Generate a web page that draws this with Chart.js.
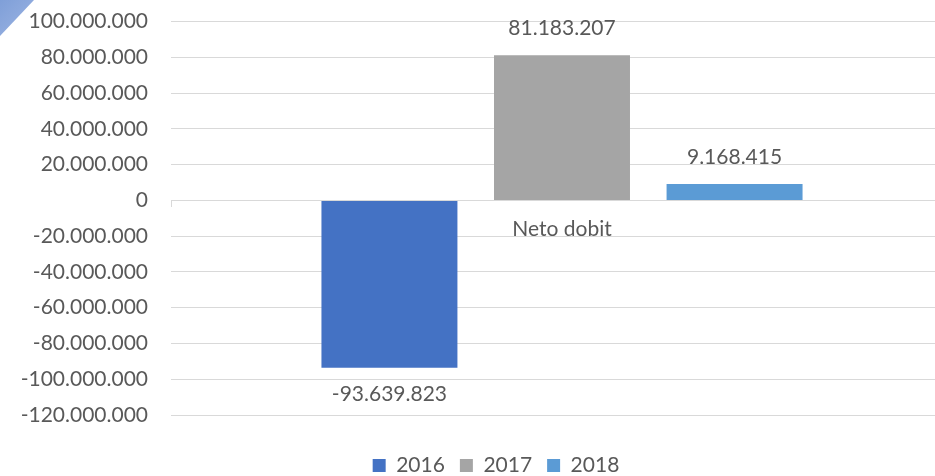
<!DOCTYPE html>
<html>
<head>
<meta charset="utf-8">
<script src="https://cdn.jsdelivr.net/npm/chart.js@4.4.1/dist/chart.umd.min.js"></script>
<style>
    html, body { margin: 0; padding: 0; background: #ffffff; overflow: hidden; }
    #wrap { position: relative; width: 982px; height: 476px; overflow: hidden; }
    #profit-chart { position: absolute; left: 0; top: -14px; }
    #corner {
        position: absolute; left: 0; top: 0; width: 34px; height: 36px;
        background: linear-gradient(135deg, #7f9fd8 0%, #9db5e3 100%);
        clip-path: polygon(0 0, 100% 0, 0 100%);
        z-index: 2;
    }
</style>
</head>
<body>
<div id="wrap">
    <canvas id="profit-chart" width="982" height="500"></canvas>
    <div id="corner"></div>
</div>
<script>
// chart data
const categories = ['Neto dobit'];
const years = ['2016', '2017', '2018'];
const values2016 = [-93639823];
const values2017 = [81183207];
const values2018 = [9168415];
const yMin = -120000000;
const yMax = 100000000;
const yStep = 20000000;

const seriesColors = ['#4472C4', '#A5A5A5', '#5B9BD5'];
const textColor = '#595959';
const gridColor = '#d9d9d9';
const baseFont = { family: 'Lato', size: 21 };

function formatNumber(v) {
    const s = String(Math.abs(Math.round(v))).replace(/\B(?=(\d{3})+(?!\d))/g, '.');
    return (v < 0 ? '-' : '') + s;
}

// draws the value above / below each bar
const valueLabels = {
    id: 'valueLabels',
    afterDatasetsDraw(chart) {
        const ctx = chart.ctx;
        ctx.save();
        ctx.font = baseFont.size + 'px ' + baseFont.family;
        ctx.fillStyle = textColor;
        ctx.textAlign = 'center';
        ctx.textBaseline = 'middle';
        chart.data.datasets.forEach(function(ds, i) {
            const meta = chart.getDatasetMeta(i);
            meta.data.forEach(function(bar, j) {
                const v = ds.data[j];
                const y = v >= 0 ? bar.y - 27 : bar.y + 26;
                ctx.fillText(formatNumber(v), bar.x, y);
            });
        });
        ctx.restore();
    }
};

const ctx = document.getElementById('profit-chart').getContext('2d');
const profitChart = new Chart(ctx, {
    type: 'bar',
    data: {
        labels: categories,
        datasets: [
            { label: years[0], data: values2016, backgroundColor: seriesColors[0] },
            { label: years[1], data: values2017, backgroundColor: seriesColors[1] },
            { label: years[2], data: values2018, backgroundColor: seriesColors[2] }
        ]
    },
    options: {
        responsive: false,
        animation: false,
        categoryPercentage: 0.662,
        barPercentage: 0.788,
        layout: {
            padding: { left: 10, right: 0, top: 8, bottom: 0 }
        },
        plugins: {
            legend: {
                position: 'bottom',
                labels: {
                    boxWidth: 13,
                    boxHeight: 13,
                    padding: 15,
                    color: textColor,
                    font: baseFont
                }
            },
            tooltip: { enabled: false }
        },
        scales: {
            x: {
                type: 'category',
                position: { y: 0 },
                grid: {
                    drawOnChartArea: false,
                    drawTicks: true,
                    tickLength: 6,
                    color: gridColor
                },
                border: { display: true, color: gridColor },
                ticks: { color: textColor, font: baseFont, padding: 10 }
            },
            xSpace: {
                type: 'category',
                position: 'bottom',
                grid: { display: false, drawTicks: false },
                border: { display: false },
                ticks: { display: false },
                afterFit: function(scale) { scale.height = 25; }
            },
            y: {
                min: yMin,
                max: yMax,
                ticks: {
                    stepSize: yStep,
                    color: textColor,
                    font: baseFont,
                    padding: 23,
                    callback: function(value) { return formatNumber(value); }
                },
                grid: { color: gridColor, lineWidth: 1, drawTicks: false },
                border: { display: false },
                afterFit: function(scale) { scale.width = 161; }
            },
            ySpace: {
                type: 'linear',
                position: 'right',
                min: yMin,
                max: yMax,
                grid: { display: false, drawTicks: false },
                border: { display: false },
                ticks: { display: false },
                afterFit: function(scale) { scale.width = 29; }
            }
        }
    },
    plugins: [valueLabels]
});
</script>
</body>
</html>
